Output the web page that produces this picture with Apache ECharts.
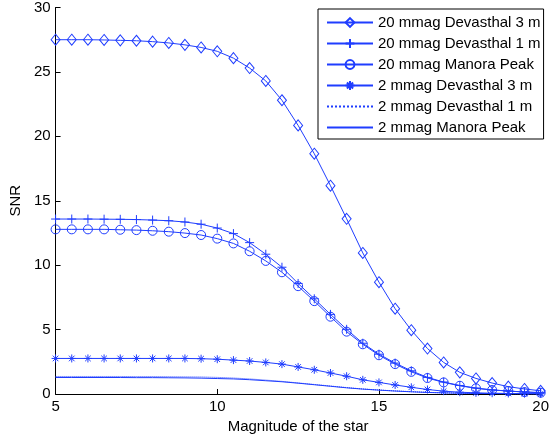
<!DOCTYPE html>
<html>
<head>
<meta charset="utf-8">
<script src="https://cdn.jsdelivr.net/npm/echarts@6/dist/echarts.min.js"></script>
<style>
html,body{margin:0;padding:0;background:#fff;}
#chart{width:552px;height:439px;}
</style>
</head>
<body>
<div id="chart"></div>
<script>
var magnitudes = [5,5.5,6,6.5,7,7.5,8,8.5,9,9.5,10,10.5,11,11.5,12,12.5,13,13.5,14,14.5,15,15.5,16,16.5,17,17.5,18,18.5,19,19.5,20];
var snr20Dev3 = [27.5,27.5,27.5,27.48,27.45,27.42,27.35,27.25,27.1,26.9,26.6,26.07,25.3,24.3,22.8,20.85,18.65,16.17,13.6,10.95,8.68,6.62,4.95,3.53,2.45,1.68,1.21,0.85,0.57,0.39,0.25];
var snr20Dev1 = [13.58,13.58,13.58,13.57,13.56,13.54,13.5,13.45,13.35,13.18,12.88,12.45,11.75,10.85,9.84,8.58,7.39,6.18,5.02,3.94,3.09,2.4,1.8,1.29,0.93,0.66,0.46,0.32,0.23,0.16,0.11];
var snr20Man = [12.78,12.78,12.78,12.78,12.75,12.72,12.67,12.6,12.49,12.34,12.06,11.69,11.08,10.33,9.45,8.37,7.21,6.0,4.84,3.86,3.01,2.32,1.72,1.24,0.9,0.64,0.44,0.31,0.23,0.15,0.1];
var snr2Dev3 = [2.76,2.76,2.76,2.76,2.76,2.76,2.76,2.76,2.76,2.74,2.7,2.63,2.56,2.45,2.32,2.1,1.88,1.63,1.38,1.1,0.9,0.7,0.52,0.35,0.22,0.14,0.09,0.06,0.04,0.03,0.02];
var snr2Dev1 = [1.36,1.36,1.36,1.36,1.36,1.35,1.35,1.34,1.33,1.32,1.29,1.24,1.17,1.08,0.98,0.86,0.74,0.62,0.5,0.39,0.31,0.24,0.18,0.13,0.09,0.07,0.05,0.03,0.02,0.016,0.011];
var snr2Man = [1.28,1.28,1.28,1.28,1.28,1.27,1.27,1.26,1.25,1.23,1.2,1.17,1.11,1.03,0.95,0.84,0.72,0.6,0.48,0.38,0.3,0.23,0.17,0.12,0.09,0.06,0.04,0.03,0.02,0.015,0.01];
var seriesNames = ['20 mmag Devasthal 3 m','20 mmag Devasthal 1 m','20 mmag Manora Peak','2 mmag Devasthal 3 m','2 mmag Devasthal 1 m','2 mmag Manora Peak'];
var xTicks = [5,10,15,20];
var yTicks = [0,5,10,15,20,25,30];

function pairs(vals){ return magnitudes.map(function(m,i){ return [m, vals[i]]; }); }
var BLUE = '#1f3dff';
var FONT = 'Liberation Sans, Arial, Helvetica, sans-serif';
var PLUS = 'path://M5,0L5,10M0,5L10,5';
var STAR = 'path://M5,0L5,10M0,5L10,5M1.5,1.5L8.5,8.5M8.5,1.5L1.5,8.5';

function mk(name, vals, symbol, size, ltype){
  return {
    name: name, type: 'line', data: pairs(vals),
    symbol: symbol, symbolSize: size, showSymbol: symbol !== 'none',
    lineStyle: {color: BLUE, width: 1, type: ltype || 'solid'},
    itemStyle: {color: 'rgba(255,255,255,0)', borderColor: BLUE, borderWidth: 1},
    emphasis: {disabled: true}, animation: false, z: 2
  };
}

var legendData = seriesNames.map(function(n, i){
  if (i >= 4) {
    return {name: n, itemStyle: {color: 'rgba(0,0,0,0)', borderColor: 'rgba(0,0,0,0)', borderWidth: 0}};
  }
  return {name: n};
});

var chart = echarts.init(document.getElementById('chart'), null, {renderer: 'canvas'});
chart.setOption({
  animation: false,
  backgroundColor: '#fff',
  grid: {left: 52, right: 7, top: 7, bottom: 44, containLabel: false},
  xAxis: {
    type: 'value', min: xTicks[0], max: xTicks[xTicks.length-1], interval: 5,
    name: 'Magnitude of the star', nameLocation: 'middle', nameGap: 25,
    nameTextStyle: {fontFamily: FONT, fontSize: 15, color: '#000'},
    axisLine: {show: true, lineStyle: {color: '#000', width: 1}},
    axisTick: {show: true, inside: true, length: 5, lineStyle: {color: '#000'}},
    axisLabel: {fontFamily: FONT, fontSize: 15, color: '#000', margin: 5},
    splitLine: {show: false}
  },
  yAxis: {
    type: 'value', min: yTicks[0], max: yTicks[yTicks.length-1], interval: 5,
    name: 'SNR', nameLocation: 'middle', nameGap: 30,
    nameTextStyle: {fontFamily: FONT, fontSize: 15, color: '#000'},
    axisLine: {show: true, lineStyle: {color: '#000', width: 1}},
    axisTick: {show: true, inside: true, length: 5, lineStyle: {color: '#000'}},
    axisLabel: {fontFamily: FONT, fontSize: 15, color: '#000', margin: 5},
    splitLine: {show: false}
  },
  legend: {
    orient: 'vertical', left: 318, top: 9,
    padding: [6, 3, 4, 8], itemGap: 6, itemWidth: 46, itemHeight: 11,
    borderColor: '#000', borderWidth: 1, backgroundColor: '#fff',
    textStyle: {fontFamily: FONT, fontSize: 15, color: '#000'},
    data: legendData
  },
  series: [
    mk(seriesNames[0], snr20Dev3, 'diamond', [9, 11]),
    mk(seriesNames[1], snr20Dev1, PLUS, 9),
    mk(seriesNames[2], snr20Man, 'circle', 9),
    mk(seriesNames[3], snr2Dev3, STAR, 8),
    mk(seriesNames[4], snr2Dev1, 'none', 0, 'dotted'),
    mk(seriesNames[5], snr2Man, 'none', 0)
  ]
});
</script>
</body>
</html>
